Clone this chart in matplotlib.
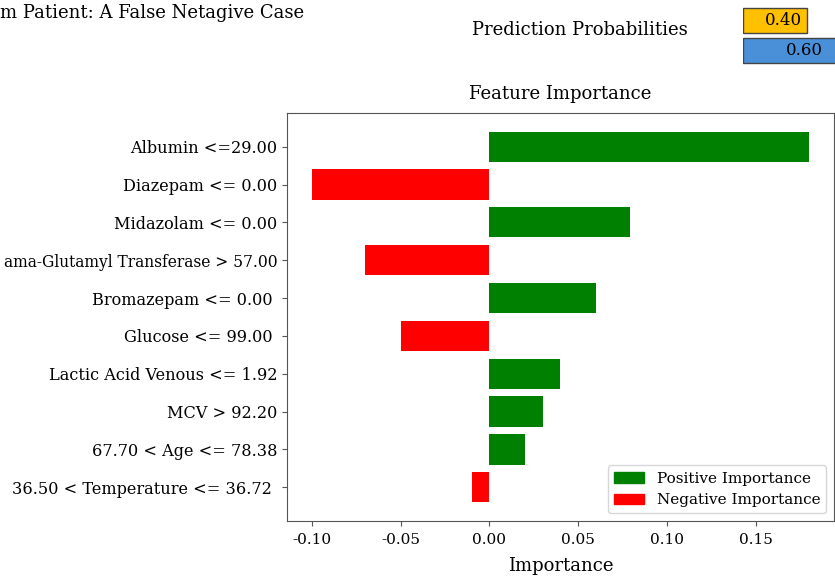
import matplotlib
matplotlib.use("Agg")
import matplotlib.pyplot as plt
from matplotlib.patches import Patch

# LIME style explanation for one patient (top feature first)
features = [
    "Albumin <=29.00",
    "Diazepam <= 0.00",
    "Midazolam <= 0.00",
    "ama-Glutamyl Transferase > 57.00",
    "Bromazepam <= 0.00 ",
    "Glucose <= 99.00 ",
    "Lactic Acid Venous <= 1.92",
    "MCV > 92.20",
    "67.70 < Age <= 78.38",
    "36.50 < Temperature <= 36.72 ",
]
importance = [0.18, -0.10, 0.079, -0.07, 0.06, -0.05, 0.04, 0.03, 0.02, -0.01]

prob_values = [0.40, 0.60]
prob_colors = ["#FFC000", "#4A90D9"]
prob_label_pad = [0.03, 0.10]

plt.rcParams["font.family"] = ["DejaVu Serif"]

fig = plt.figure(figsize=(8.35, 5.77), dpi=100)

# main feature importance chart
ax = fig.add_axes([0.3437, 0.0971, 0.6551, 0.7071])
colors = ["green" if v > 0 else "red" for v in importance]
ypos = list(range(len(features)))[::-1]
ax.barh(ypos, importance, color=colors, height=0.8)
ax.set_yticks(ypos)
ax.set_yticklabels(features, fontsize=11.6)
# the long label only just fits at the left edge
ax.get_yticklabels()[3].set_fontsize(11.2)
ax.tick_params(axis="x", labelsize=11, pad=5)
ax.set_xticks([-0.10, -0.05, 0.0, 0.05, 0.10, 0.15])
ax.set_xticklabels(["-0.10", "-0.05", "0.00", "0.05", "0.10", "0.15"])
ax.set_xlabel("Importance", fontsize=13, labelpad=7)
ax.set_title("Feature Importance", fontsize=13, pad=10)
for s in ax.spines.values():
    s.set_color("#555555")
ax.tick_params(colors="#555555", labelcolor="black")

legend_items = [Patch(color="green", label="Positive Importance"),
                Patch(color="red", label="Negative Importance")]
ax.legend(handles=legend_items, loc="lower right", fontsize=11)

# prediction probabilities
pax = fig.add_axes([743 / 835, 1 - 66 / 577, 160 / 835, 61 / 577])
pax.barh([1, 0], prob_values, color=prob_colors, edgecolor="#444444",
         height=0.82, linewidth=1)
for y, v, pad in zip([1, 0], prob_values, prob_label_pad):
    pax.text(v - pad, y, f"{v:.2f}", ha="right", va="center", fontsize=12)
pax.set_xlim(0, 1)
pax.set_ylim(-0.5, 1.5)
pax.axis("off")

fig.text(472 / 835, 1 - 30 / 577, "Prediction Probabilities",
         ha="left", va="center", fontsize=13)
fig.text(0, 1 - 13 / 577, "m Patient: A False Netagive Case",
         ha="left", va="center", fontsize=13)

fig.savefig("out.png", dpi=100)
